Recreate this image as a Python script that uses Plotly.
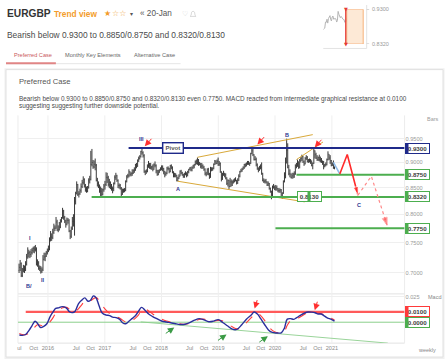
import numpy as np
import pandas as pd
import plotly.graph_objects as go

W, H = 448, 363
def px(x): return x / W
def py(y): return 1 - y / H

FONT = "Liberation Sans, Arial, sans-serif"
NAVY = "#1f2a8a"
GREEN = "#4cae4f"
RED = "#ff2b2b"
GOLD = "#d9a93a"

# ---------------- weekly EURGBP bars ----------------
first_week = "2015-06-29"
first_open = 0.7040
close_2015 = [0.7090,0.7150,0.6960,0.7050,0.7060,0.7060,0.7140,0.7260,0.7320,0.7330,0.7300,0.7330,0.7370,0.7400,0.7380,0.7390,0.7140,0.7160,0.7080,0.7070,0.7030,0.7050,0.7220,0.7260,0.7270,0.7330,0.7370]
high_2015 = [0.7150,0.7210,0.7170,0.7080,0.7130,0.7120,0.7190,0.7310,0.7420,0.7380,0.7360,0.7390,0.7410,0.7430,0.7440,0.7460,0.7420,0.7220,0.7190,0.7120,0.7110,0.7090,0.7290,0.7330,0.7330,0.7360,0.7400]
low_2015 = [0.7000,0.7030,0.6935,0.6935,0.7010,0.7000,0.7030,0.7120,0.7230,0.7250,0.7240,0.7260,0.7300,0.7330,0.7320,0.7350,0.7120,0.7100,0.7050,0.7030,0.6990,0.7000,0.7030,0.7200,0.7190,0.7260,0.7300]
close_2016 = [0.7380,0.7560,0.7600,0.7590,0.7680,0.7750,0.7750,0.7860,0.7720,0.7720,0.7770,0.7880,0.7930,0.8060,0.7940,0.7880,0.7820,0.7890,0.7890,0.7700,0.7610,0.7740,0.7870,0.7870,0.8240,0.8380,0.8560,0.8370,0.8380,0.8440,0.8520,0.8600,0.8660,0.8530,0.8460,0.8430,0.8500,0.8630,0.8660,0.8960,0.9000,0.8910,0.8960,0.8940,0.8640,0.8580,0.8510,0.8480,0.8430,0.8370,0.8460,0.8530]
high_2016 = [0.7450,0.7590,0.7700,0.7660,0.7740,0.7830,0.7800,0.7950,0.7900,0.7800,0.7860,0.7910,0.7950,0.8117,0.8080,0.7970,0.7900,0.7940,0.7930,0.7910,0.7720,0.7780,0.7950,0.8000,0.8320,0.8420,0.8620,0.8570,0.8430,0.8480,0.8580,0.8650,0.8720,0.8680,0.8570,0.8520,0.8530,0.8680,0.8730,0.9240,0.9280,0.9050,0.9040,0.9080,0.8970,0.8690,0.8620,0.8560,0.8520,0.8490,0.8480,0.8570]
low_2016 = [0.7340,0.7370,0.7520,0.7530,0.7560,0.7650,0.7700,0.7740,0.7700,0.7680,0.7710,0.7750,0.7850,0.7920,0.7900,0.7840,0.7760,0.7800,0.7830,0.7680,0.7560,0.7580,0.7720,0.7780,0.7620,0.8180,0.8370,0.8340,0.8310,0.8360,0.8400,0.8490,0.8560,0.8500,0.8420,0.8400,0.8410,0.8480,0.8580,0.8640,0.8920,0.8870,0.8880,0.8840,0.8620,0.8520,0.8490,0.8400,0.8304,0.8340,0.8350,0.8420]
close_2017 = [0.8560,0.8700,0.8690,0.8560,0.8600,0.8510,0.8480,0.8480,0.8580,0.8700,0.8730,0.8640,0.8540,0.8540,0.8490,0.8370,0.8430,0.8450,0.8450,0.8620,0.8730,0.8730,0.8810,0.8760,0.8780,0.8780,0.8840,0.8850,0.8960,0.8920,0.9050,0.9080,0.9120,0.9230,0.9200,0.9140,0.8810,0.8820,0.8820,0.8920,0.8950,0.8940,0.8890,0.8910,0.8860,0.8950,0.8940,0.8830,0.8760,0.8790,0.8850,0.8880]
high_2017 = [0.8630,0.8800,0.8790,0.8730,0.8670,0.8620,0.8570,0.8520,0.8600,0.8740,0.8790,0.8750,0.8660,0.8580,0.8570,0.8510,0.8480,0.8480,0.8490,0.8640,0.8740,0.8770,0.8860,0.8820,0.8800,0.8860,0.8860,0.8900,0.8970,0.8990,0.9060,0.9120,0.9150,0.9240,0.9307,0.9230,0.9170,0.8840,0.8860,0.8960,0.9030,0.8990,0.8990,0.8930,0.8960,0.8980,0.9020,0.8960,0.8850,0.8850,0.8860,0.8900]
low_2017 = [0.8460,0.8530,0.8590,0.8520,0.8490,0.8470,0.8440,0.8390,0.8430,0.8560,0.8650,0.8610,0.8490,0.8480,0.8460,0.8313,0.8360,0.8400,0.8410,0.8430,0.8600,0.8680,0.8700,0.8720,0.8720,0.8730,0.8770,0.8790,0.8830,0.8880,0.8910,0.9010,0.9060,0.9100,0.9160,0.9100,0.8790,0.8744,0.8770,0.8800,0.8890,0.8870,0.8860,0.8850,0.8820,0.8850,0.8900,0.8780,0.8730,0.8740,0.8790,0.8830]
close_2018 = [0.8890,0.8870,0.8810,0.8760,0.8780,0.8880,0.8880,0.8820,0.8930,0.8900,0.8810,0.8720,0.8770,0.8740,0.8640,0.8680,0.8720,0.8820,0.8790,0.8750,0.8720,0.8760,0.8780,0.8750,0.8810,0.8850,0.8890,0.8850,0.8890,0.8930,0.8950,0.9010,0.8980,0.8990,0.8960,0.8960,0.8920,0.8930,0.8900,0.8860,0.8770,0.8750,0.8860,0.8770,0.8700,0.8890,0.8860,0.8880,0.8960,0.9030,0.8980,0.9020,0.8950]
high_2018 = [0.8940,0.8940,0.8890,0.8830,0.8810,0.8910,0.8920,0.8890,0.8950,0.8960,0.8920,0.8820,0.8790,0.8780,0.8750,0.8710,0.8760,0.8840,0.8850,0.8810,0.8770,0.8790,0.8820,0.8800,0.8830,0.8870,0.8900,0.8910,0.8920,0.8950,0.8970,0.9040,0.9060,0.9100,0.9070,0.9010,0.8990,0.8990,0.8960,0.8930,0.8880,0.8810,0.8880,0.8890,0.8790,0.8910,0.8900,0.8900,0.8980,0.9050,0.9040,0.9060,0.9100]
low_2018 = [0.8840,0.8820,0.8760,0.8700,0.8730,0.8760,0.8840,0.8780,0.8800,0.8860,0.8780,0.8700,0.8700,0.8700,0.8620,0.8620,0.8670,0.8720,0.8760,0.8730,0.8690,0.8690,0.8740,0.8700,0.8720,0.8780,0.8840,0.8820,0.8820,0.8870,0.8880,0.8940,0.8960,0.8950,0.8930,0.8940,0.8880,0.8870,0.8870,0.8830,0.8740,0.8720,0.8750,0.8740,0.8670,0.8690,0.8820,0.8830,0.8860,0.8950,0.8960,0.8970,0.8930]
close_2019 = [0.8980,0.8810,0.8660,0.8750,0.8770,0.8750,0.8690,0.8580,0.8640,0.8520,0.8610,0.8610,0.8590,0.8620,0.8650,0.8640,0.8590,0.8640,0.8720,0.8810,0.8830,0.8860,0.8890,0.8960,0.8930,0.8980,0.8970,0.8990,0.8980,0.9180,0.9240,0.9160,0.9060,0.9060,0.8950,0.8870,0.8850,0.8880,0.8900,0.8780,0.8640,0.8620,0.8630,0.8610,0.8550,0.8580,0.8480,0.8430,0.8330,0.8520,0.8500,0.8470]
high_2019 = [0.9030,0.9000,0.8820,0.8790,0.8830,0.8790,0.8780,0.8700,0.8660,0.8650,0.8690,0.8660,0.8640,0.8660,0.8680,0.8700,0.8650,0.8680,0.8760,0.8830,0.8870,0.8890,0.8920,0.8970,0.8980,0.9000,0.9030,0.9030,0.9000,0.9200,0.9325,0.9310,0.9170,0.9130,0.9100,0.8980,0.8900,0.8930,0.8960,0.9000,0.8790,0.8680,0.8660,0.8670,0.8620,0.8620,0.8590,0.8500,0.8440,0.8540,0.8570,0.8540]
low_2019 = [0.8930,0.8790,0.8620,0.8650,0.8730,0.8700,0.8660,0.8550,0.8520,0.8473,0.8510,0.8520,0.8530,0.8580,0.8600,0.8620,0.8560,0.8570,0.8630,0.8700,0.8800,0.8810,0.8850,0.8870,0.8900,0.8920,0.8950,0.8950,0.8930,0.8970,0.9170,0.9130,0.9040,0.9040,0.8920,0.8850,0.8800,0.8830,0.8860,0.8750,0.8620,0.8590,0.8580,0.8580,0.8530,0.8530,0.8460,0.8400,0.8277,0.8320,0.8480,0.8450]
close_2020 = [0.8500,0.8480,0.8440,0.8440,0.8460,0.8320,0.8390,0.8620,0.8740,0.8990,0.9250,0.8900,0.8770,0.8770,0.8700,0.8730,0.8760,0.8770,0.8940,0.8930,0.9020,0.8910,0.9040,0.9080,0.9120,0.9010,0.8970,0.9080,0.9110,0.9020,0.9040,0.9040,0.9030,0.8940,0.8980,0.9240,0.9160,0.9090,0.9060,0.9100,0.9060,0.9050,0.9010,0.9010,0.8930,0.8950,0.8960,0.9060,0.9170,0.9090,0.9040,0.8940]
high_2020 = [0.8550,0.8540,0.8490,0.8490,0.8480,0.8470,0.8410,0.8640,0.8800,0.9100,0.9499,0.9400,0.8950,0.8860,0.8770,0.8790,0.8790,0.8820,0.8960,0.8990,0.9060,0.9020,0.9070,0.9110,0.9160,0.9140,0.9040,0.9110,0.9150,0.9130,0.9070,0.9080,0.9070,0.9040,0.9000,0.9292,0.9250,0.9200,0.9150,0.9120,0.9160,0.9120,0.9090,0.9040,0.9030,0.8970,0.9000,0.9080,0.9230,0.9170,0.9150,0.9050]
low_2020 = [0.8440,0.8440,0.8410,0.8400,0.8400,0.8300,0.8282,0.8380,0.8600,0.8680,0.8980,0.8880,0.8740,0.8700,0.8680,0.8670,0.8680,0.8690,0.8750,0.8880,0.8910,0.8870,0.8880,0.9000,0.9030,0.8990,0.8930,0.8960,0.9050,0.9000,0.8990,0.9000,0.8970,0.8920,0.8860,0.8970,0.9080,0.9070,0.9030,0.9030,0.9020,0.9000,0.8990,0.8950,0.8860,0.8900,0.8920,0.8940,0.9040,0.9050,0.8970,0.8920]
close_2021 = [0.8970,0.8890,0.8890]
high_2021 = [0.9000,0.9040,0.8920]
low_2021 = [0.8930,0.8870,0.8860]

close = close_2015 + close_2016 + close_2017 + close_2018 + close_2019 + close_2020 + close_2021
high = high_2015 + high_2016 + high_2017 + high_2018 + high_2019 + high_2020 + high_2021
low = low_2015 + low_2016 + low_2017 + low_2018 + low_2019 + low_2020 + low_2021
opens = [first_open] + close[:-1]
weeks = pd.date_range(first_week, periods=len(close), freq="7D")

# ---------------- MACD ----------------
macd_dates = ["2015-07-01","2015-07-20","2015-08-10","2015-09-01","2015-09-20","2015-10-10","2015-10-25","2015-11-15","2015-12-05","2015-12-25",
              "2016-01-15","2016-02-05","2016-02-20","2016-03-10","2016-03-25","2016-04-15","2016-05-01","2016-05-20","2016-06-10","2016-06-25",
              "2016-07-15","2016-08-05","2016-08-25","2016-09-15","2016-10-01","2016-10-20","2016-11-05","2016-11-25","2016-12-15",
              "2017-01-10","2017-02-01","2017-02-20","2017-03-15","2017-04-05","2017-04-25","2017-05-15","2017-06-05","2017-06-25","2017-07-15",
              "2017-08-05","2017-08-25","2017-09-15","2017-10-10","2017-11-05","2017-12-01",
              "2018-01-01","2018-02-01","2018-03-01","2018-04-01","2018-05-01","2018-06-01","2018-07-01","2018-08-01","2018-09-01","2018-10-01","2018-11-01","2018-12-01",
              "2019-01-01","2019-02-01","2019-03-01","2019-04-01","2019-05-01","2019-06-01","2019-07-01","2019-08-01","2019-08-20","2019-09-10","2019-10-01","2019-10-25","2019-11-20","2019-12-15",
              "2020-01-10","2020-02-10","2020-03-01","2020-03-20","2020-04-10","2020-05-01","2020-05-20","2020-06-15","2020-07-10","2020-08-01","2020-08-25","2020-09-15","2020-10-05","2020-10-25","2020-11-15","2020-12-05","2020-12-25","2021-01-18"]
macd_vals = [-0.0125,-0.0128,-0.0120,-0.0080,-0.0035,0.0010,-0.0010,-0.0052,-0.0040,-0.0015,
             0.0055,0.0105,0.0135,0.0140,0.0150,0.0150,0.0135,0.0100,0.0095,0.0110,
             0.0180,0.0215,0.0238,0.0205,0.0215,0.0258,0.0240,0.0160,0.0090,
             0.0070,0.0065,0.0050,0.0045,0.0030,-0.0005,-0.0015,0.0010,0.0035,0.0060,
             0.0105,0.0145,0.0120,0.0080,0.0055,0.0035,
             0.0012,0.0002,-0.0005,-0.0015,-0.0022,-0.0020,-0.0005,0.0020,0.0035,0.0022,0.0005,0.0010,
             0.0025,-0.0005,-0.0035,-0.0068,-0.0070,-0.0025,0.0030,0.0070,0.0100,0.0080,0.0035,-0.0020,-0.0075,-0.0100,
             -0.0105,-0.0103,-0.0060,0.0030,0.0035,0.0028,0.0045,0.0070,0.0090,0.0100,0.0098,0.0092,0.0080,0.0080,0.0060,0.0040,0.0030,0.0010]
signal_vals = [-0.0110,-0.0120,-0.0122,-0.0108,-0.0080,-0.0045,-0.0025,-0.0030,-0.0038,-0.0030,
               0.0005,0.0050,0.0090,0.0120,0.0135,0.0145,0.0145,0.0125,0.0105,0.0105,
               0.0130,0.0170,0.0205,0.0215,0.0212,0.0230,0.0240,0.0215,0.0165,
               0.0115,0.0085,0.0065,0.0052,0.0042,0.0020,0.0002,-0.0002,0.0015,0.0038,
               0.0070,0.0110,0.0130,0.0110,0.0080,0.0055,
               0.0030,0.0012,0.0002,-0.0008,-0.0016,-0.0020,-0.0012,0.0008,0.0028,0.0030,0.0015,0.0010,
               0.0018,0.0012,-0.0015,-0.0045,-0.0065,-0.0050,-0.0005,0.0045,0.0075,0.0090,0.0065,0.0020,-0.0040,-0.0080,
               -0.0100,-0.0105,-0.0090,-0.0030,0.0015,0.0028,0.0035,0.0055,0.0078,0.0092,0.0098,0.0095,0.0088,0.0082,0.0070,0.0055,0.0040,0.0022]

# ---------------- analysis overlays ----------------
x_range = ["2015-06-22", "2022-04-14"]
price_range = [0.6675, 1.0016]
macd_range = [-0.0204, 0.0262]

level_values = [0.9300, 0.8750, 0.8320, 0.7750]
level_starts = ["2017-06-03", "2020-05-18", "2016-10-08", "2020-01-04"]
level_colors = [NAVY, GREEN, GREEN, GREEN]
extra_label = {"text": "0.8130", "x": "2020-08-07", "y": 0.8320}
pivot_label = {"text": "Pivot", "x": "2018-03-14", "y": 0.9300}

macd_levels = [0.0100, 0.0000]
macd_level_starts = ["2015-08-11", "2015-06-22"]
macd_level_colors = ["#ff5a5a", "#8ccf8c"]
macd_trend = (["2017-08-20", "2021-12-27"], [0.0003, -0.0204])

gold_lines = [(["2018-08-20", "2020-08-31"], [0.9106, 0.9587]),
              (["2018-04-14", "2020-07-10"], [0.8624, 0.8228]),
              (["2020-05-18", "2020-11-05"], [0.9058, 0.9428])]

blue_seg = (["2021-01-11", "2021-02-21"], [0.9000, 0.8767])
red_path = (["2021-02-21", "2021-04-10", "2021-06-18"], [0.8767, 0.9162, 0.8354])
dash_path = (["2021-06-18", "2021-09-12", "2021-12-22"], [0.8354, 0.8722, 0.7804])

wave_text = ["III", "A", "B", "C", "I", "II", "B/"]
wave_dates = ["2017-08-27", "2018-04-15", "2020-03-18", "2021-06-25", "2015-09-07", "2015-12-01", "2015-09-02"]
wave_prices = [0.9484, 0.8470, 0.9572, 0.8165, 0.7578, 0.6889, 0.6795]

sell_dates = ["2017-09-15", "2019-09-10", "2020-09-13"]
sell_prices = [0.9336, 0.9372, 0.9315]
macd_sell_dates = ["2019-08-23", "2020-09-13"]
macd_sell_vals = [0.0133, 0.0117]
macd_buy_dates = ["2018-03-24", "2019-02-23", "2019-11-16"]
macd_buy_vals = [-0.0051, -0.0119, -0.0136]

tick_dates = ["2015-07-01","2015-10-01","2016-01-01","2016-07-01","2016-10-01","2017-01-01","2017-07-01","2017-10-01",
              "2018-01-01","2018-07-01","2018-10-01","2019-01-01","2019-07-01","2019-10-01","2020-01-01","2020-07-01","2020-10-01","2021-01-01"]
tick_text = ["ul","Oct","2016","Jul","Oct","2017","Jul","Oct","2018","Jul","Oct","2019","Jul","Oct","2020","Jul","Oct","2021"]
year_lines = ["2016-01-01","2017-01-01","2018-01-01","2019-01-01","2020-01-01","2021-01-01"]
price_ticks = [0.70, 0.75, 0.80, 0.85, 0.90, 0.95]

mini_n = 40
mini_range = [0.8320, 0.9300]

# ---------------- figure ----------------
fig = go.Figure()
shapes = []
ann = []

# card
shapes.append(dict(type="rect", xref="paper", yref="paper", x0=px(3.5), x1=px(444.5), y0=py(359), y1=py(66.5),
                   fillcolor="#f0f0f0", line=dict(width=0), layer="below"))
shapes.append(dict(type="rect", xref="paper", yref="paper", x0=px(5), x1=px(443), y0=py(357), y1=py(68),
                   fillcolor="white", line=dict(color="#e1e1e1", width=1), layer="below"))
# tabs underline
shapes.append(dict(type="line", xref="paper", yref="paper", x0=px(5), x1=px(180), y0=py(62), y1=py(62),
                   line=dict(color="#e6e6e6", width=1)))
shapes.append(dict(type="line", xref="paper", yref="paper", x0=px(5), x1=px(55), y0=py(61.5), y1=py(61.5),
                   line=dict(color="#e08585", width=2)))

# chart frame lines
y_top, y_sep, y_bot = 114, 293.5, 343
for yy in [y_sep, y_bot]:
    shapes.append(dict(type="line", xref="paper", yref="paper", x0=px(17), x1=px(404.5), y0=py(yy), y1=py(yy),
                       line=dict(color="#e2e2e2", width=1), layer="below"))
for xx in [17, 404.5]:
    shapes.append(dict(type="line", xref="paper", yref="paper", x0=px(xx), x1=px(xx), y0=py(y_bot), y1=py(y_top),
                       line=dict(color="#ececec", width=1), layer="below"))
for d in year_lines:
    shapes.append(dict(type="line", xref="x", yref="paper", x0=d, x1=d, y0=py(y_bot), y1=py(y_top),
                       line=dict(color="#efefef", width=1), layer="below"))

# bars
fig.add_trace(go.Ohlc(x=weeks, open=opens, high=high, low=low, close=close, xaxis="x", yaxis="y",
                      increasing=dict(line=dict(color="#3a3a3a", width=1)),
                      decreasing=dict(line=dict(color="#3a3a3a", width=1)),
                      tickwidth=0.3, hoverinfo="skip", showlegend=False))

def line(xs, ys, color, width, dash="solid", xa="x", ya="y", shape="linear"):
    fig.add_trace(go.Scatter(x=xs, y=ys, mode="lines", xaxis=xa, yaxis=ya, hoverinfo="skip", showlegend=False,
                             line=dict(color=color, width=width, dash=dash, shape=shape)))

# gold triangle / channel lines
for xs, ys in gold_lines:
    line(xs, ys, GOLD, 1)

# key levels
for v, s, c in zip(level_values, level_starts, level_colors):
    line([s, x_range[1]], [v, v], c, 2)

# projection path
line(blue_seg[0], blue_seg[1], "#8fbbe8", 1.6)
fig.add_trace(go.Scatter(x=red_path[0], y=red_path[1], mode="lines+markers", xaxis="x", yaxis="y", hoverinfo="skip",
                         showlegend=False, line=dict(color=RED, width=1.6),
                         marker=dict(symbol="arrow", size=[0, 0, 9], angleref="previous", color=RED)))
fig.add_trace(go.Scatter(x=dash_path[0], y=dash_path[1], mode="lines+markers", xaxis="x", yaxis="y", hoverinfo="skip",
                         showlegend=False, line=dict(color="#ff8a8a", width=1.2, dash="dot"),
                         marker=dict(symbol="arrow", size=[0, 0, 8], angleref="previous", color="#ff4a4a")))

# MACD panel
line(macd_trend[0], macd_trend[1], "#9ad49a", 1, xa="x2", ya="y2")
for v, s, c, w in zip(macd_levels, macd_level_starts, macd_level_colors, [2.2, 1]):
    line([s, x_range[1]], [v, v], c, w, xa="x2", ya="y2")
line(macd_dates, signal_vals, "#ff3b3b", 1.1, dash="dash", xa="x2", ya="y2", shape="spline")
line(macd_dates, macd_vals, "#2a2f9c", 1.4, xa="x2", ya="y2", shape="spline")

# mini chart
fig.add_trace(go.Scatter(x=weeks[-mini_n:], y=close[-mini_n:], mode="lines", xaxis="x3", yaxis="y3",
                         hoverinfo="skip", showlegend=False, line=dict(color="#b5b5b5", width=1)))
shapes.append(dict(type="rect", xref="paper", yref="y3", x0=px(346.5), x1=px(363), y0=mini_range[0], y1=mini_range[1],
                   fillcolor="#fde9d6", line=dict(color="#f6b27c", width=1)))
shapes.append(dict(type="line", xref="paper", yref="y3", x0=px(345.5), x1=px(345.5), y0=mini_range[0], y1=mini_range[1],
                   line=dict(color="#e53935", width=1.2)))
shapes.append(dict(type="line", xref="paper", yref="paper", x0=px(323), x1=px(366.5), y0=py(46.7), y1=py(46.7),
                   line=dict(color="#e3e3e3", width=1)))
shapes.append(dict(type="line", xref="paper", yref="paper", x0=px(366.5), x1=px(366.5), y0=py(46.7), y1=py(3),
                   line=dict(color="#e3e3e3", width=1)))
for v in mini_range:
    shapes.append(dict(type="line", xref="paper", yref="y3", x0=px(366.5), x1=px(369), y0=v, y1=v,
                       line=dict(color="#bbbbbb", width=1)))
    ann.append(dict(text="%.4f" % v, xref="paper", yref="y3", x=px(370), y=v, xanchor="left", yanchor="middle",
                    showarrow=False, font=dict(family=FONT, size=5.5, color="#9a9a9a")))
    ann.append(dict(text="▼", xref="paper", yref="y3", x=px(345.6), y=v, xanchor="center", yanchor="middle",
                    showarrow=False, font=dict(family="DejaVu Sans", size=5, color="#e53935")))

# ---------------- text annotations ----------------
def text(t, x, y, size, color="#444", bold=False, anchor="left", family=FONT):
    if bold:
        t = "<b>%s</b>" % t
    ann.append(dict(text=t, xref="paper", yref="paper", x=px(x), y=py(y), xanchor=anchor, yanchor="middle",
                    showarrow=False, font=dict(family=family, size=size, color=color)))

text("EURGBP", 4.5, 12, 10.2, "#333", bold=True)
text("Trend view", 51.5, 12, 8.3, "#f39c2b", bold=True)
text("★", 101.5, 11.5, 8, "#f39c2b", family="DejaVu Sans")
text("☆☆", 109, 11.5, 8, "#f0a640", family="DejaVu Sans")
text("▾", 127, 12, 6, "#555", family="DejaVu Sans")
text("« 20-Jan", 137.5, 12, 8.2, "#555")
text("♡", 179.5, 12, 7, "#cfcfcf", family="DejaVu Sans")
shapes.append(dict(type="path", xref="paper", yref="paper",
                   path="M %f %f L %f %f Q %f %f %f %f Q %f %f %f %f L %f %f Z" % (
                       px(189.5), py(14.5), px(190.5), py(13.5), px(190.5), py(9.2), px(192.5), py(9.2),
                       px(194.5), py(9.2), px(194.5), py(13.5), px(195.5), py(14.5)),
                   fillcolor="rgba(0,0,0,0)", line=dict(color="#cfcfcf", width=0.8)))
text("Bearish below 0.9300 to 0.8850/0.8750 and 0.8320/0.8130", 4.5, 33.5, 8.4, "#4a4a4a")
text("Preferred Case", 11.5, 53.5, 5.6, "#c9575a")
text("Monthly Key Elements", 62.5, 53.5, 5.6, "#666")
text("Alternative Case", 131.5, 53.5, 5.6, "#666")
text("Preferred Case", 16.5, 79.5, 7.6, "#555")
text("Bearish below 0.9300 to 0.8850/0.8750 and 0.8320/0.8130 even 0.7750. MACD reacted from intermediate graphical resistance at 0.0100",
     16.5, 97.5, 6.4, "#4a4a4a")
text("suggesting suggesting further downside potential.", 16.5, 105, 6.4, "#4a4a4a")
text("Bars", 425, 117.5, 5.5, "#9a9a9a")
text("Macd", 425.5, 297, 5.5, "#888")
text("weekly", 416, 349.5, 5.5, "#888")

# level boxes
def box(t, xref, x, yref, y, color, xanchor="left", w=22):
    ann.append(dict(text="<b>%s</b>" % t, xref=xref, yref=yref, x=x, y=y, xanchor=xanchor, yanchor="middle",
                    showarrow=False, width=w, height=8, bgcolor="white", bordercolor=color, borderwidth=1,
                    borderpad=0.5, font=dict(family=FONT, size=6.2, color="#3d3d3d")))
    ann.append(dict(text=" ", xref=xref, yref=yref, x=x, y=y, xanchor=xanchor, yanchor="middle",
                    showarrow=False, width=1, height=8, bgcolor=color, borderpad=0.5, font=dict(size=6)))

for v, c in zip(level_values, level_colors):
    box("%.4f" % v, "paper", px(405), "y", np.log10(v), c)
for v, c in zip(macd_levels, ["#ff3a3a", GREEN]):
    box("%.4f" % v, "paper", px(405), "y2", v, c)
box(extra_label["text"], "x", extra_label["x"], "y", np.log10(extra_label["y"]), GREEN, xanchor="center", w=22)
ann.append(dict(text="<b>%s</b>" % pivot_label["text"], xref="x", yref="y", x=pivot_label["x"], y=np.log10(pivot_label["y"]),
                xanchor="center", yanchor="middle", showarrow=False, width=18, height=8, bgcolor="white",
                bordercolor=NAVY, borderwidth=1.4, borderpad=0.5, font=dict(family=FONT, size=6, color="#555")))

# wave labels
for t, d, p in zip(wave_text, wave_dates, wave_prices):
    ann.append(dict(text="<b>%s</b>" % t, xref="x", yref="y", x=d, y=np.log10(p), showarrow=False,
                    font=dict(family=FONT, size=5.5, color="#2d3590")))

# signal arrows
for d, p in zip(sell_dates, sell_prices):
    ann.append(dict(text="", xref="x", yref="y", x=d, y=np.log10(p), ax=8, ay=-9, showarrow=True,
                    arrowhead=2, arrowsize=1.3, arrowwidth=1, arrowcolor="#ff3030"))
for d, v in zip(macd_sell_dates, macd_sell_vals):
    ann.append(dict(text="", xref="x2", yref="y2", x=d, y=v, ax=3, ay=-10, showarrow=True,
                    arrowhead=2, arrowsize=1.3, arrowwidth=1, arrowcolor="#ff3030"))
for d, v in zip(macd_buy_dates, macd_buy_vals):
    ann.append(dict(text="", xref="x2", yref="y2", x=d, y=v, ax=-10, ay=7, showarrow=True,
                    arrowhead=2, arrowsize=1.3, arrowwidth=1, arrowcolor="#3a9a45"))

axis_common = dict(showline=False, zeroline=False, fixedrange=True)
fig.update_layout(
    width=W, height=H, margin=dict(l=0, r=0, t=0, b=0),
    paper_bgcolor="white", plot_bgcolor="rgba(0,0,0,0)",
    showlegend=False, hovermode=False, dragmode=False,
    font=dict(family=FONT),
    xaxis=dict(domain=[px(17), px(404.5)], range=x_range, type="date", anchor="y", showticklabels=False,
               showgrid=False, rangeslider=dict(visible=False), **axis_common),
    yaxis=dict(domain=[py(293.5), py(114)], type="log", range=[np.log10(price_range[0]), np.log10(price_range[1])],
               side="right", anchor="x", tickvals=price_ticks, ticktext=["%.4f" % t for t in price_ticks],
               tickfont=dict(size=5.6, color="#9a9a9a"), showgrid=True, gridcolor="#efefef", gridwidth=1,
               ticks="", **axis_common),
    xaxis2=dict(domain=[px(17), px(404.5)], range=x_range, type="date", anchor="y2", tickvals=tick_dates,
                ticktext=tick_text, tickfont=dict(size=5.6, color="#8a8a8a"), showgrid=False, ticks="",
                tickangle=0, **axis_common),
    yaxis2=dict(domain=[py(343), py(295)], range=macd_range, side="right", anchor="x2", tickvals=[0.025],
                ticktext=["0.025"], tickfont=dict(size=5.6, color="#9a9a9a"), showgrid=True, gridcolor="#efefef",
                ticks="", **axis_common),
    xaxis3=dict(domain=[px(323), px(352)], type="date", anchor="y3", visible=False, **axis_common),
    yaxis3=dict(domain=[py(42.3), py(7.3)], range=mini_range, anchor="x3", visible=False, **axis_common),
    shapes=shapes, annotations=ann,
)

fig.write_html("out.html", config={"displayModeBar": False, "staticPlot": True},
               post_script="document.body.style.margin='0';document.body.style.overflow='hidden';"
                           "document.documentElement.style.overflow='hidden';")
